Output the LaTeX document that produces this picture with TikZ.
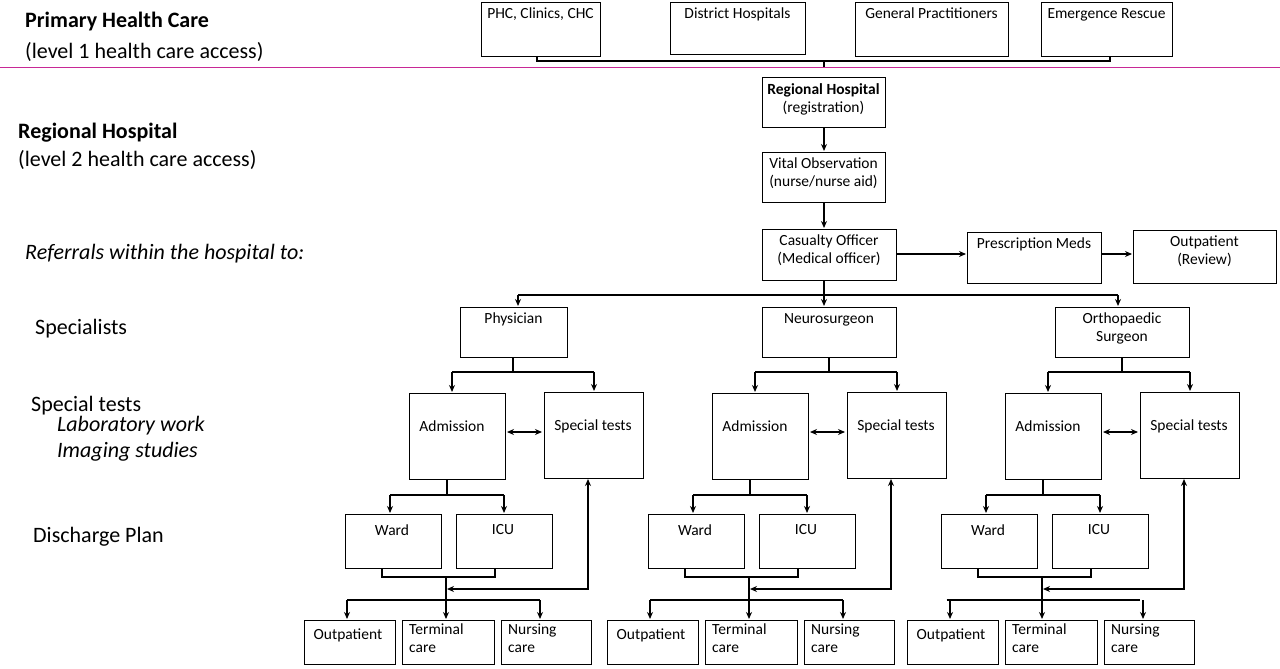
\documentclass[tikz,border=0pt]{standalone}
\usepackage{fontspec}
\setmainfont{Carlito}
\usetikzlibrary{arrows.meta}
\definecolor{pinkline}{RGB}{200,40,150}
\begin{document}
\begin{tikzpicture}[x=1pt,y=-1pt,
 bx/.style={draw,line width=0.8pt},
 tx/.style={font=\fontsize{15.5}{18}\selectfont},
 lbl/.style={anchor=west,font=\fontsize{22}{25}\selectfont,inner sep=0},
 ar/.style={line width=1.6pt,-{Stealth[length=7pt,width=6pt]}},
 ln/.style={line width=1.6pt}]
\useasboundingbox (0,0) rectangle (1280,669);
\newcommand{\bxx}[6]{\draw[bx] (#2,#3) rectangle (#4,#5); \node[tx,align=center,anchor=north,inner sep=0] (#1) at ({(#2+#4)/2},#3+6) {#6};}
% left labels
\node[lbl,font=\fontsize{22}{25}\selectfont\bfseries] (l1) at (25,22) {Primary Health Care};
\node[lbl] (l2) at (25,52) {(level 1 health care access)};
\node[lbl,font=\fontsize{22}{25}\selectfont\bfseries] (l3) at (18,133) {Regional Hospital};
\node[lbl] (l4) at (18,160) {(level 2 health care access)};
\node[lbl,font=\fontsize{22}{25}\selectfont\itshape] (l5) at (25,254) {Referrals within the hospital to:};
\node[lbl] (l6) at (35,329) {Specialists};
\node[lbl] (l7) at (31,406) {Special tests};
\node[lbl,font=\fontsize{22}{25}\selectfont\itshape] (l8) at (57,426) {Laboratory work};
\node[lbl,font=\fontsize{22}{25}\selectfont\itshape] (l9) at (57,452) {Imaging studies};
\node[lbl] (l10) at (33,537) {Discharge Plan};
\draw[pinkline,line width=0.9pt] (0,67) coordinate (pl) -- (1280,67) coordinate (pr);
% top
\bxx{t1}{481}{2}{600}{56}{PHC, Clinics, CHC}
\bxx{t2}{670}{2}{805}{54}{District Hospitals}
\bxx{t3}{855}{2}{1008}{56}{General Practitioners}
\bxx{t4}{1041}{2}{1172}{56}{Emergence Rescue}
\draw[ln] (537,56) -- (537,61) -- (1110,61) -- (1110,56);
\draw[ln] (824,61) coordinate (tc) -- (824,67);
\bxx{rh}{762}{77}{885}{127}{\textbf{Regional Hospital}\\(registration)}
\bxx{vo}{762}{152}{885}{202}{Vital Observation\\(nurse/nurse aid)}
\bxx{co}{762}{229}{896}{280}{Casualty Officer\\(Medical officer)}
\bxx{pm}{967}{232}{1101}{283}{Prescription Meds}
\bxx{op}{1133}{230}{1276}{283}{Outpatient\\(Review)}
\draw[ar] (824,127) -- (824,151);
\draw[ar] (824,202) -- (824,228);
\draw[ar] (896,254) -- (966,254);
\draw[ar] (1101,254) -- (1132,254);
\draw[ln] (824,280) -- (824,295);
\draw[ar] (518,295) -- (518,306);
\draw[ar] (1118,295) -- (1118,306);
\draw[ar] (824,295) -- (824,306);
\draw[ln] (518,295) -- (1118,295);
\bxx{s1}{460}{307}{567}{357}{Physician}
\bxx{s2}{762}{307}{896}{357}{Neurosurgeon}
\bxx{s3}{1055}{307}{1189}{357}{Orthopaedic\\Surgeon}
\foreach \o/\sc/\bo in {0/513/0,303/829/0,596/1122/7}{
 \begin{scope}[xshift=\o pt]
 \draw[ln] (\sc-\o,357) -- (\sc-\o,372);
 \draw[ar] (452,372) -- (452,392);
 \draw[ar] (594,372) -- (594,391);
 \draw[ln] (452,372) -- (594,372);
 \draw[bx] (409,393) rectangle (505,479);
 \node[tx] at (452,426) {Admission};
 \draw[bx] (544,392) rectangle (643,478);
 \node[tx] at (593,426) {Special tests};
 \draw[ln,{Stealth[length=7pt,width=6pt]}-{Stealth[length=7pt,width=6pt]}] (507,432) -- (542,432);
 \draw[ln] (447,479) -- (447,495);
 \draw[ar] (390,495) -- (390,513);
 \draw[ar] (504,495) -- (504,513);
 \draw[ln] (390,495) -- (504,495);
 \draw[bx] (345,514) rectangle (441,568);
 \node[tx] at (392,530) {Ward};
 \draw[bx] (456,514) rectangle (552,568);
 \node[tx] at (503,530) {ICU};
 \draw[ln] (382,568) -- (382,577) -- (495,577) -- (495,568);
 \draw[ln] (446,577) -- (446,600);
 \draw[ln,{Stealth[length=7pt,width=6pt]}-{Stealth[length=7pt,width=6pt]}] (447,589) -- (588,589) -- (588,479);
 \draw[ln] (347+\bo/2,600) -- (540+\bo/2,600);
 \begin{scope}[xshift=\bo pt]
 \draw[ar] (347,600) -- (347,619);
 \draw[ar] (540,600) -- (540,619);
 \draw[bx] (304,620) rectangle (395,664);
 \node[tx] at (348,635) {Outpatient};
 \draw[bx] (402,620) rectangle (494,664);
 \node[tx,align=left,anchor=north west,inner sep=0] at (409,624) {Terminal\\care};
 \draw[bx] (501,620) rectangle (591,664);
 \node[tx,align=left,anchor=north west,inner sep=0] at (508,624) {Nursing\\care};
 \end{scope}
 \draw[ar] (446,600) -- (446,619);
 \end{scope}}
\end{tikzpicture}
\end{document}
